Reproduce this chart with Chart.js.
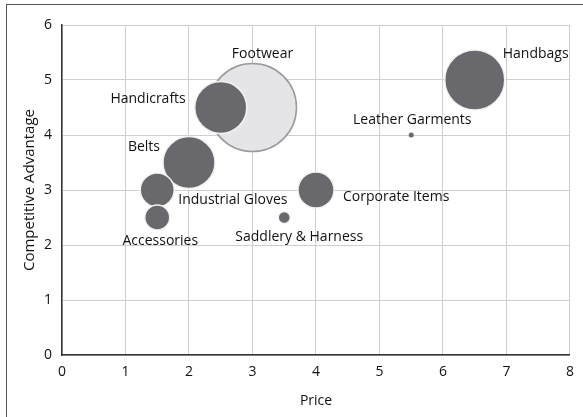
<!DOCTYPE html>
<html>
<head>
<meta charset="utf-8">
<script src="https://cdn.jsdelivr.net/npm/chart.js@4"></script>
<style>
  html, body { margin: 0; padding: 0; background: #fff; }
  .frame { position: absolute; left: 6px; top: 4px; width: 700px; height: 600px;
           border-left: 1.5px solid #555; border-top: 1.5px solid #555; }
  .wrap { position: absolute; left: 0; top: 0; width: 583px; height: 417px; }
</style>
</head>
<body>
<div class="frame"></div>
<div class="wrap"><canvas id="chart" width="583" height="417"></canvas></div>
<script>
const categories = ['Footwear', 'Handicrafts', 'Belts', 'Industrial Gloves', 'Accessories',
  'Saddlery & Harness', 'Corporate Items', 'Leather Garments', 'Handbags'];
const price = [3, 2.5, 2, 1.5, 1.5, 3.5, 4, 5.5, 6.5];
const advantage = [4.5, 4.5, 3.5, 3, 2.5, 2.5, 3, 4, 5];
const bubbleSize = [44, 26, 26, 17, 12.5, 6, 18, 2.5, 30];

// label placement relative to bubble centre: [dx, dy, align]
const labelPlace = [
  [10, -53, 'center'], [-35, -8, 'right'], [-29, -15, 'right'], [21, 10, 'left'],
  [3, 24, 'center'], [15, 20, 'center'], [27, 7, 'left'], [1, -15, 'center'], [28, -26, 'left']
];

const FONT = '"Open Sans", sans-serif';
const dark = '#69696d';

const bubbleLabels = {
  id: 'bubbleLabels',
  afterDatasetsDraw(chart) {
    const ctx = chart.ctx;
    const meta = chart.getDatasetMeta(0);
    ctx.save();
    ctx.font = '14px ' + FONT;
    ctx.fillStyle = '#111';
    ctx.textBaseline = 'middle';
    meta.data.forEach((pt, i) => {
      const [dx, dy, align] = labelPlace[i];
      ctx.textAlign = align;
      ctx.fillText(categories[i], pt.x + dx, pt.y + dy);
    });
    ctx.restore();
  }
};

new Chart(document.getElementById('chart'), {
  type: 'bubble',
  data: {
    datasets: [{
      data: categories.map((c, i) => ({ x: price[i], y: advantage[i], r: bubbleSize[i] })),
      backgroundColor: categories.map((c, i) => i === 0 ? '#e5e5e7' : dark),
      borderColor: categories.map((c, i) => i === 0 ? '#9a9a9c' : '#f2f2f2'),
      borderWidth: categories.map((c, i) => bubbleSize[i] < 5 ? 0 : 1.5)
    }]
  },
  options: {
    responsive: false,
    animation: false,
    layout: { autoPadding: false, padding: { left: 0, right: 12, top: 25, bottom: 0 } },
    plugins: { legend: { display: false }, tooltip: { enabled: false } },
    scales: {
      x: {
        min: 0, max: 8,
        ticks: { stepSize: 1, color: '#111', font: { family: FONT, size: 14 }, padding: 9 },
        grid: { color: '#cfcfcf', lineWidth: 1, drawTicks: false },
        border: { color: '#333', width: 1.5 },
        title: { display: true, text: 'Price', color: '#111', font: { family: FONT, size: 14 }, padding: { top: 0, bottom: 8 } },
        afterFit(s) { s.height = 62; }
      },
      y: {
        min: 0, max: 6,
        ticks: { stepSize: 1, color: '#111', font: { family: FONT, size: 14 }, padding: 10 },
        grid: { color: '#cfcfcf', lineWidth: 1, drawTicks: false },
        border: { color: '#333', width: 1.5 },
        title: { display: true, text: 'Competitive Advantage', color: '#111', font: { family: FONT, size: 15 }, padding: { top: 21, bottom: 0 } },
        afterFit(s) { s.width = 62; }
      }
    }
  },
  plugins: [bubbleLabels]
});
</script>
</body>
</html>
